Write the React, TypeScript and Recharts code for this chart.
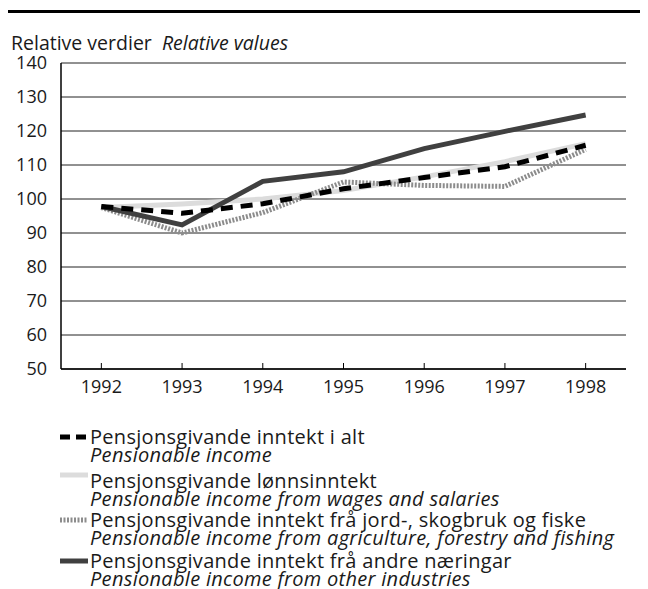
import { LineChart, Line, XAxis, YAxis, CartesianGrid } from "recharts";

const years = ["1992", "1993", "1994", "1995", "1996", "1997", "1998"];
const totalIncome = [97.8, 95.8, 98.6, 103, 106.3, 109.5, 115.8];
const wagesIncome = [97.5, 98.5, 100, 102.5, 106.5, 111, 116.3];
const agriIncome = [97.5, 90, 96, 105, 104, 103.7, 114.6];
const otherIncome = [97.8, 92.4, 105.2, 108, 114.8, 119.9, 124.7];
const yTicks = [50, 60, 70, 80, 90, 100, 110, 120, 130, 140];

const data = years.map((year, i) => ({
  year,
  total: totalIncome[i],
  wages: wagesIncome[i],
  agri: agriIncome[i],
  other: otherIncome[i],
}));

const FONT = "'Open Sans', sans-serif";
const INK = "#1a1a1a";

const legendItems = [
  { no: "Pensjonsgivande inntekt i alt", en: "Pensionable income", stroke: "#000", dash: "10 6", top: 420, markY: 9 },
  { no: "Pensjonsgivande lønnsinntekt", en: "Pensionable income from wages and salaries", stroke: "#dcdcdc", dash: undefined, top: 464, markY: 3 },
  { no: "Pensjonsgivande inntekt frå jord-, skogbruk og fiske", en: "Pensionable income from agriculture, forestry and fishing", stroke: "#8c8c8c", dash: "2 1.5", top: 503, markY: 9 },
  { no: "Pensjonsgivande inntekt frå andre næringar", en: "Pensionable income from other industries", stroke: "#404040", dash: undefined, top: 544, markY: 9 },
];

function YearTick(props: any) {
  const { x, y, payload } = props;
  const axisY = y - 8;
  return (
    <g>
      <line x1={x} x2={x} y1={axisY} y2={axisY - 6} stroke="#000" strokeWidth={1} />
      <text x={x} y={axisY + 24} textAnchor="middle" fontSize={18} fontFamily={FONT} fill={INK}>
        {payload.value}
      </text>
    </g>
  );
}

export default function App() {
  return (
    <div style={{ position: "relative", width: 632, height: 581, fontFamily: FONT, color: INK }}>
      {/* top rule */}
      <div style={{ position: "absolute", left: 0, top: 2, width: 632, height: 3, background: "#000" }} />

      <div style={{ position: "absolute", left: 3, top: 24, fontSize: 19.5, whiteSpace: "nowrap", lineHeight: "22px" }}>
        Relative verdier&nbsp;&nbsp;<i>Relative values</i>
      </div>

      <div style={{ position: "absolute", left: 0, top: 42 }}>
        <LineChart width={632} height={360} data={data} margin={{ top: 13, right: 14, bottom: 11, left: 0 }}>
          <CartesianGrid horizontal vertical={false} stroke="#222" strokeWidth={1} />
          <XAxis
            dataKey="year"
            scale="band"
            axisLine={{ stroke: "#000", strokeWidth: 1.5 }}
            tickLine={false}
            tickSize={0}
            tickMargin={8}
            height={30}
            tick={<YearTick />}
            interval={0}
          />
          <YAxis
            domain={[50, 140]}
            ticks={yTicks}
            width={53}
            axisLine={{ stroke: "#000", strokeWidth: 1.5 }}
            tickLine={false}
            tickSize={0}
            tickMargin={14}
            tick={{ fontSize: 18, fill: INK, fontFamily: FONT }}
            interval={0}
          />
          <Line type="linear" dataKey="wages" stroke="#dcdcdc" strokeWidth={5} dot={false} isAnimationActive={false} />
          <Line type="linear" dataKey="agri" stroke="#8c8c8c" strokeWidth={5} strokeDasharray="2 1.5" dot={false} isAnimationActive={false} />
          <Line type="linear" dataKey="other" stroke="#404040" strokeWidth={5} dot={false} isAnimationActive={false} />
          <Line type="linear" dataKey="total" stroke="#000" strokeWidth={5} strokeDasharray="12 8" dot={false} isAnimationActive={false} />
        </LineChart>
      </div>

      {/* legend */}
      {legendItems.map((it) => (
        <div key={it.no} style={{ position: "absolute", left: 52, top: it.top, display: "flex", alignItems: "flex-start" }}>
          <svg width={30} height={18} style={{ display: "block" }}>
            <line x1={0} x2={28} y1={it.markY} y2={it.markY} stroke={it.stroke} strokeWidth={5} strokeDasharray={it.dash} />
          </svg>
          <div style={{ fontSize: 20, letterSpacing: 0.3, lineHeight: "17.5px", whiteSpace: "nowrap" }}>
            <div>{it.no}</div>
            <div style={{ fontStyle: "italic" }}>{it.en}</div>
          </div>
        </div>
      ))}
    </div>
  );
}
